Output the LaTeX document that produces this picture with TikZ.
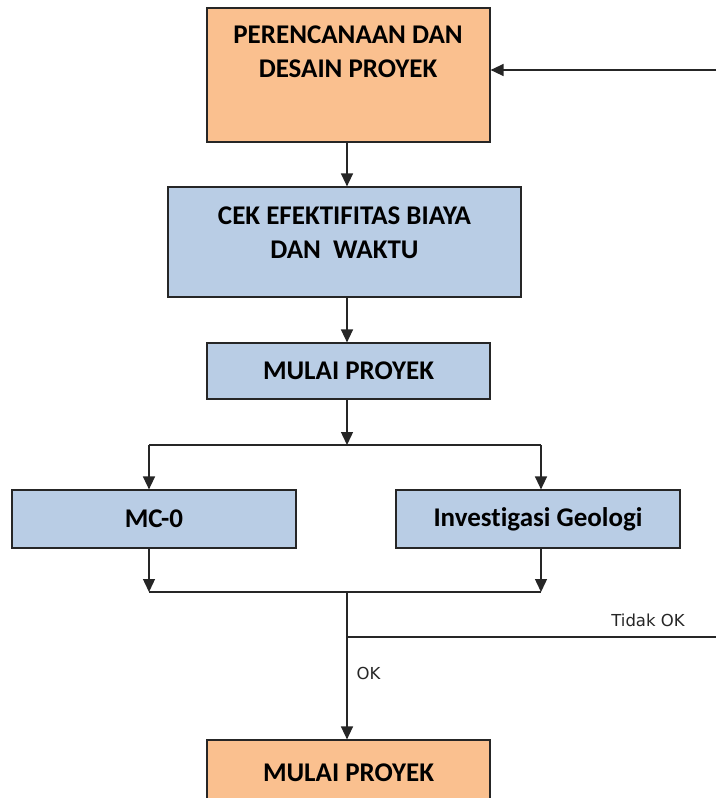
\documentclass[tikz,border=0pt]{standalone}
\usepackage{fontspec}
\setmainfont{Carlito}[Ligatures=NoCommon]
\newfontfamily\labelfont{DejaVu Sans}
\usepackage{xcolor}
\usetikzlibrary{arrows.meta,positioning,calc}

\definecolor{planorange}{HTML}{FAC08F}
\definecolor{stepblue}{HTML}{B9CDE5}

\begin{document}
\begin{tikzpicture}[x=1pt, y=-1pt,
    orangebox/.style={rectangle, draw=black!85, line width=1.2pt, fill=planorange, align=center, font=\fontsize{27}{33}\selectfont\bfseries, inner sep=0pt},
    bluebox/.style={rectangle, draw=black!85, line width=1.2pt, fill=stepblue, align=center, font=\fontsize{27}{33}\selectfont\bfseries, inner sep=0pt},
    boxtext/.style={align=center, font=\fontsize{27}{34}\selectfont\bfseries, inner sep=0pt},
    arrow/.style={-{Triangle[width=12pt,length=13pt]}, line width=1.4pt, black!85},
    line/.style={line width=1.4pt, black!85},
    lbl/.style={font=\labelfont\fontsize{16.5}{19}\selectfont, text=black!85}
]
\useasboundingbox (0,0) rectangle (716,798);

% Main boxes
\node[orangebox, minimum width=283pt, minimum height=134pt] (plan) at (348.5,75) {};
\node[boxtext] (plantext) at (348,51.5) {PERENCANAAN DAN\\DESAIN PROYEK};
\node[bluebox, minimum width=353pt, minimum height=110pt] (cek) at (344.5,242) {};
\node[boxtext] (cektext) at (344.5,232.5) {CEK EFEKTIFITAS BIAYA\\DAN\ \ WAKTU};
\node[bluebox, minimum width=283pt, minimum height=56pt] (mulai) at (348.5,371) {MULAI PROYEK};

% Branch boxes
\node[bluebox, minimum width=284pt, minimum height=58pt] (mc) at (154,519) {MC-0};
\node[bluebox, minimum width=284pt, minimum height=58pt] (geo) at (538,519) {Investigasi Geologi};

\node[orangebox, minimum width=283pt, minimum height=66pt] (start) at (348.5,773) {MULAI PROYEK};

% Junctions
\coordinate (split) at (347,445);
\coordinate (splitL) at (149,445);
\coordinate (splitR) at (541,445);
\coordinate (join) at (347,592);
\coordinate (joinL) at (149,592);
\coordinate (joinR) at (541,592);
\coordinate (check) at (347,637);
\coordinate (back) at (716,637);
\coordinate (feed) at (716,70);

% Arrows - main flow
\draw[arrow] (plan.south -| split) -- (cek.north -| split);
\draw[arrow] (cek.south -| split) -- (mulai.north -| split);
\draw[arrow] (mulai.south -| split) -- (split);
\draw[line] (splitL) -- (splitR);
\draw[arrow] (splitL) -- (mc.north -| splitL);
\draw[arrow] (splitR) -- (geo.north -| splitR);

% Arrows - merge
\draw[arrow] (mc.south -| joinL) -- (joinL);
\draw[arrow] (geo.south -| joinR) -- (joinR);
\draw[line] (joinL) -- (joinR);
\draw[arrow] (join) -- (start.north -| join);

% Feedback
\draw[line] (check) -- (back);
\draw[arrow] (feed) -- (feed -| plan.east);

\node[lbl] (notok) at (648,620) {Tidak OK};
\node[lbl, anchor=west] (ok) at (353,673) {OK};

\end{tikzpicture}
\end{document}
